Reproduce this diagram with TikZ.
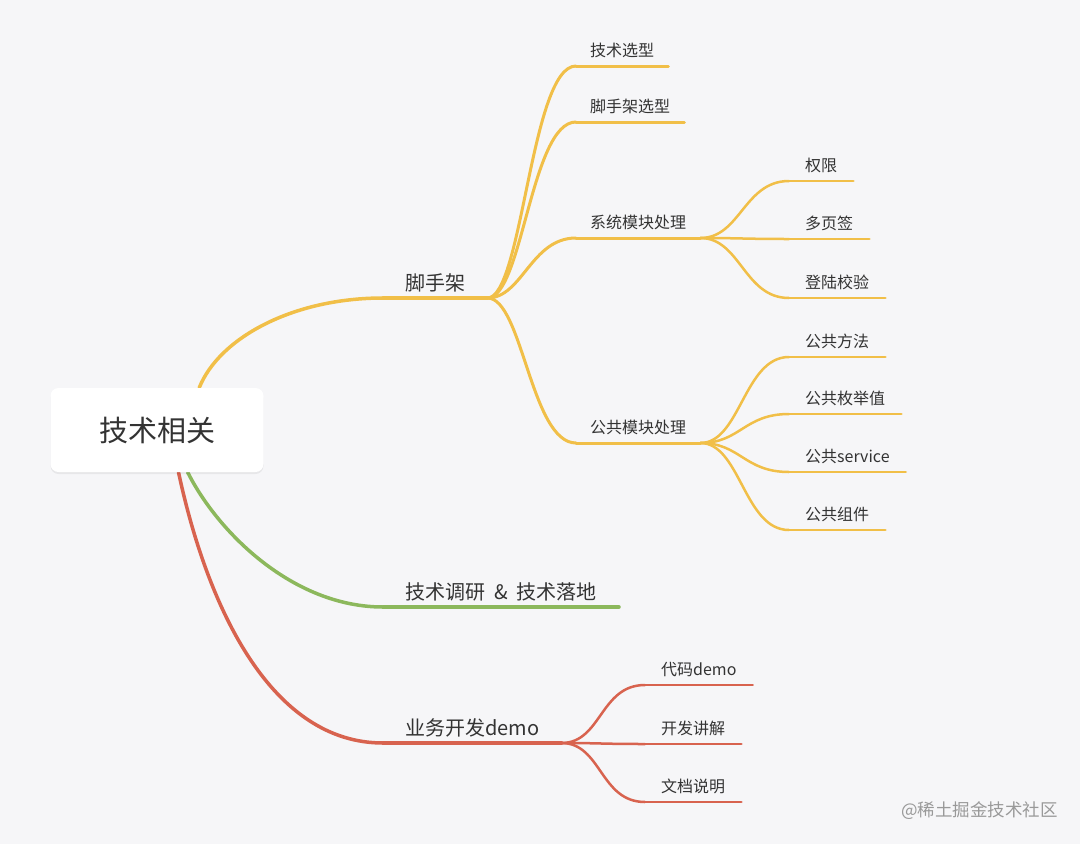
\documentclass[tikz,border=0pt]{standalone}
\usepackage{fontspec}
\newfontfamily\cjk{Noto Sans CJK SC}
\usepackage{xcolor}
\usetikzlibrary{shadows}
\definecolor{bgcol}{HTML}{F6F6F8}
\definecolor{ylw}{HTML}{F1BF48}
\definecolor{grn}{HTML}{8CB85C}
\definecolor{rd}{HTML}{D8634F}
\definecolor{txt}{HTML}{333333}
\pgfdeclarelayer{background}
\pgfsetlayers{background,main}
\tikzset{
  topic/.style={anchor=south west, inner xsep=22pt, inner ysep=6pt, text=txt,
    font=\cjk\fontsize{20}{24}\selectfont},
  sub/.style={anchor=south west, inner xsep=14pt, inner ysep=8pt, text=txt,
    font=\cjk\fontsize{16}{19}\selectfont},
  leaf/.style={sub, inner xsep=16pt},
  br1/.style={line width=3.5pt, line cap=round},
  br2/.style={line width=3pt, line cap=round},
  br3/.style={line width=2.5pt, line cap=round},
}

\begin{document}
\begin{tikzpicture}[x=1pt, y=-1pt]
\begin{pgfonlayer}{background}
\fill[bgcol] (0,0) rectangle (1080,844);
\end{pgfonlayer}
\useasboundingbox (0,0) rectangle (1080,844);

% central topic
\node[fill=white, rounded corners=8pt, minimum width=213pt, minimum height=84pt,
  drop shadow={shadow xshift=0pt, shadow yshift=-2pt, opacity=0.06, fill=black},
  text=txt, font=\cjk\fontsize{29}{34}\selectfont] (root) at (157,430) {技术相关};

% main branches
\node[topic] (jsj) at (383,298) {脚手架};
\node[topic] (tech) at (383,607) {技术调研\hspace{9pt}\&\hspace{9pt}技术落地};
\node[topic] (demo) at (383,743) {业务开发demo};

\begin{pgfonlayer}{background}
\draw[br1, ylw] (root.45) .. controls +(20,-50) and +(-90,0) .. (jsj.south west);
\draw[br1, grn] (root.-54) .. controls +(30,60) and +(-90,0) .. (tech.south west);
\draw[br1, rd] (root.-63) .. controls +(30,140) and +(-110,0) .. (demo.south west);
\end{pgfonlayer}
\draw[br1, ylw] (jsj.south west) -- (jsj.south east);
\draw[br1, grn] (tech.south west) -- (tech.south east);
\draw[br1, rd] (demo.south west) -- (demo.south east);

% scaffold
\node[sub] (xx) at (576,66) {技术选型};
\node[sub] (jx) at (576,122) {脚手架选型};
\node[sub] (xt) at (576,238) {系统模块处理};
\node[sub] (gg) at (576,443) {公共模块处理};
\foreach \n in {xx,jx,xt,gg}{
  \draw[br2, ylw] (jsj.south east) .. controls +(35,0) and +(-45,0) .. (\n.south west);
  \draw[br2, ylw] (\n.south west) -- (\n.south east);
}

\node[leaf] (qx) at (789,181) {权限};
\node[leaf] (dyq) at (789,239) {多页签};
\node[leaf] (dlxy) at (789,298) {登陆校验};
\foreach \n in {qx,dyq,dlxy}{
  \draw[br3, ylw] (xt.south east) .. controls +(40,0) and +(-45,0) .. (\n.south west);
  \draw[br3, ylw] (\n.south west) -- (\n.south east);
}

\node[leaf] (ggff) at (789,357) {公共方法};
\node[leaf] (ggmj) at (789,414) {公共枚举值};
\node[leaf] (ggsv) at (789,472) {公共service};
\node[leaf] (ggzj) at (789,530) {公共组件};
\foreach \n in {ggff,ggmj,ggsv,ggzj}{
  \draw[br3, ylw] (gg.south east) .. controls +(40,0) and +(-45,0) .. (\n.south west);
  \draw[br3, ylw] (\n.south west) -- (\n.south east);
}

% demo
\node[leaf] (dm) at (645,685) {代码demo};
\node[leaf] (kf) at (645,744) {开发讲解};
\node[leaf] (wd) at (645,802) {文档说明};
\foreach \n in {dm,kf,wd}{
  \draw[br3, rd] (demo.south east) .. controls +(40,0) and +(-45,0) .. (\n.south west);
  \draw[br3, rd] (\n.south west) -- (\n.south east);
}

\node[anchor=east, inner sep=0pt, text=black!40,
  font=\cjk\fontsize{17.5}{21}\selectfont] (wm) at (1058,811) {@稀土掘金技术社区};
\end{tikzpicture}
\end{document}
